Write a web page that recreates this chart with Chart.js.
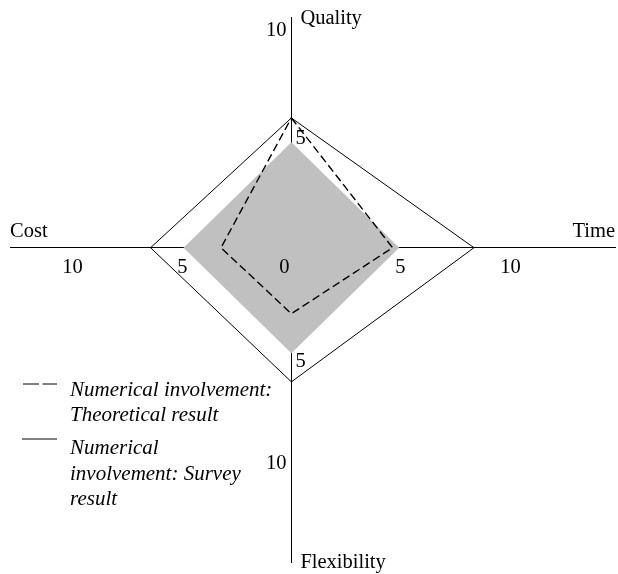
<!DOCTYPE html>
<html>
<head>
<meta charset="utf-8">
<script src="https://cdn.jsdelivr.net/npm/chart.js@4/dist/chart.umd.min.js"></script>
<style>
  html, body { margin:0; padding:0; background:#fff; }
  .wrap { width:618px; height:574px; position:relative; }
</style>
</head>
<body>
<div class="wrap"><canvas id="chart"></canvas></div>
<script>
// axes in drawing order: up, right, down, left
const categories = ['Quality', 'Time', 'Flexibility', 'Cost'];
const shadedArea = [4.8, 4.9, 4.8, 4.9];
const theoretical = [5.9, 4.6, 3.0, 3.2];
const survey = [5.9, 8.3, 6.1, 6.4];
const tickValues = [5, 10];
const legendTheoretical = ['Numerical involvement:', 'Theoretical result'];
const legendSurvey = ['Numerical', 'involvement: Survey', 'result'];

// put each value on its own half-axis and close the shape
function toPoints(vals){
  const pts = [
    {x:0, y:vals[0]}, {x:vals[1], y:0}, {x:0, y:-vals[2]}, {x:-vals[3], y:0}
  ];
  pts.push(pts[0]);
  return pts;
}

const FONT = '"Liberation Serif", "Times New Roman", serif';

const labelsPlugin = {
  id:'labels',
  afterDraw(chart){
    const ctx = chart.ctx, xs = chart.scales.x, ys = chart.scales.y, area = chart.chartArea;
    const x0 = xs.getPixelForValue(0), y0 = ys.getPixelForValue(0);
    ctx.save();
    ctx.fillStyle = '#000';
    ctx.font = '20.5px ' + FONT;

    // axis names
    ctx.textBaseline = 'alphabetic';
    ctx.textAlign = 'left';
    ctx.fillText(categories[0], x0 + 9, 24);
    ctx.fillText(categories[2], x0 + 9, 568);
    ctx.fillText(categories[3], area.left, y0 - 11);
    ctx.textAlign = 'right';
    ctx.fillText(categories[1], area.right, y0 - 11);

    // tick labels
    ctx.textBaseline = 'middle';
    ctx.textAlign = 'center';
    tickValues.forEach(v=>{
      ctx.fillText(String(v), xs.getPixelForValue(v) - 1, y0 + 20);
      ctx.fillText(String(v), xs.getPixelForValue(-v) + 1, y0 + 20);
    });
    ctx.textAlign = 'right';
    ctx.fillText('0', x0 - 2, y0 + 20);
    ctx.fillText(String(tickValues[1]), x0 - 5, ys.getPixelForValue(tickValues[1]) + 3);
    ctx.fillText(String(tickValues[1]), x0 - 5, ys.getPixelForValue(-tickValues[1]) - 4);
    ctx.textAlign = 'left';
    ctx.fillText(String(tickValues[0]), x0 + 4, ys.getPixelForValue(tickValues[0]) + 1);
    ctx.fillText(String(tickValues[0]), x0 + 4, ys.getPixelForValue(-tickValues[0]) + 4);

    // legend
    ctx.strokeStyle = '#000';
    ctx.lineWidth = 1;
    ctx.setLineDash([16, 3.5]);
    ctx.beginPath(); ctx.moveTo(23, 384); ctx.lineTo(57, 384); ctx.stroke();
    ctx.setLineDash([]);
    ctx.beginPath(); ctx.moveTo(22, 439); ctx.lineTo(57, 439); ctx.stroke();
    ctx.font = 'italic 21px ' + FONT;
    ctx.textBaseline = 'alphabetic';
    ctx.textAlign = 'left';
    legendTheoretical.forEach((t,i)=>ctx.fillText(t, 70, 395.5 + i*25.5));
    legendSurvey.forEach((t,i)=>ctx.fillText(t, 70, 454 + i*25.5));
    ctx.restore();
  }
};

const axisOpts = {
  type:'linear',
  z:1,
  grid:{ display:false },
  border:{ display:true, color:'#000', width:1 },
  ticks:{ display:false }
};

new Chart(document.getElementById('chart'), {
  type:'scatter',
  data:{
    datasets:[
      { label:'Numerical involvement: Survey result', data:toPoints(survey), showLine:true, borderColor:'#000', borderWidth:1, pointRadius:0, tension:0, fill:false },
      { label:'Numerical involvement: Theoretical result', data:toPoints(theoretical), showLine:true, borderColor:'#000', borderWidth:1.4, borderDash:[8,4], pointRadius:0, tension:0, fill:false },
      { label:'Shaded', data:toPoints(shadedArea), showLine:true, borderWidth:0, borderColor:'rgba(0,0,0,0)', backgroundColor:'#c0c0c0', pointRadius:0, tension:0, fill:'shape' }
    ]
  },
  options:{
    responsive:true,
    maintainAspectRatio:false,
    animation:false,
    layout:{ padding:{ left:10, right:3, top:17, bottom:12 } },
    plugins:{ legend:{ display:false }, tooltip:{ enabled:false } },
    scales:{
      x:{ ...axisOpts, position:{ y:0 }, min:-12.79, max:14.71 },
      y:{ ...axisOpts, position:{ x:0 }, min:-14.29, max:10.49 }
    }
  },
  plugins:[labelsPlugin]
});
</script>
</body>
</html>
